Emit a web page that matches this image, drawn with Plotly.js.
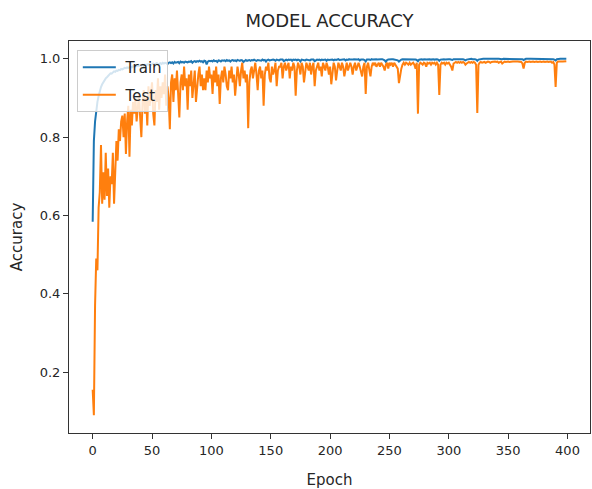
<!DOCTYPE html>
<html>
<head>
<meta charset="utf-8">
<script src="https://cdn.plot.ly/plotly-3.0.1.min.js"></script>
<style>html,body{margin:0;padding:0;background:#fff;}#chart{width:592px;height:489px;}</style>
</head>
<body>
<div id="chart"></div>
<script>
const train = [
0.584,0.790,0.840,0.870,0.890,0.905,0.918,0.928,0.935,0.941,
0.946,0.950,0.953,0.957,0.960,0.963,0.962,0.966,0.968,0.967,
0.970,0.969,0.972,0.971,0.974,0.973,0.975,0.977,0.976,0.978,
0.977,0.979,0.980,0.978,0.981,0.980,0.982,0.981,0.983,0.982,
0.984,0.983,0.985,0.982,0.985,0.984,0.986,0.985,0.987,0.984,
0.986,0.988,0.986,0.987,0.989,0.985,0.988,0.989,0.987,0.990,
0.988,0.990,0.989,0.986,0.990,0.991,0.989,0.991,0.988,0.992,
0.990,0.991,0.992,0.989,0.993,0.991,0.992,0.990,0.993,0.992,
0.991,0.993,0.992,0.994,0.990,0.993,0.994,0.992,0.994,0.993,
0.995,0.993,0.994,0.991,0.995,0.994,0.986,0.993,0.995,0.994,
0.995,0.993,0.996,0.994,0.995,0.992,0.996,0.995,0.993,0.996,
0.995,0.996,0.994,0.997,0.995,0.996,0.993,0.996,0.997,0.995,
0.996,0.994,0.997,0.996,0.995,0.997,0.996,0.992,0.996,0.997,
0.995,0.996,0.997,0.995,0.997,0.996,0.998,0.996,0.995,0.997,
0.996,0.997,0.995,0.998,0.996,0.997,0.993,0.997,0.998,0.996,
0.997,0.996,0.998,0.997,0.995,0.998,0.997,0.996,0.998,0.997,
0.998,0.994,0.997,0.998,0.996,0.998,0.997,0.998,0.995,0.998,
0.997,0.998,0.996,0.998,0.997,0.993,0.998,0.997,0.998,0.996,
0.998,0.997,0.998,0.996,0.998,0.997,0.998,0.994,0.997,0.998,
0.997,0.998,0.996,0.998,0.997,0.998,0.998,0.995,0.998,0.997,
0.998,0.997,0.998,0.996,0.998,0.997,0.998,0.999,0.997,0.998,
0.997,0.998,0.999,0.996,0.998,0.997,0.999,0.998,0.997,0.998,
0.999,0.998,0.997,0.998,0.999,0.996,0.998,0.999,0.998,0.997,
0.993,0.998,0.999,0.998,0.997,0.999,0.998,0.999,0.998,0.999,
0.998,0.999,0.998,0.999,0.999,0.998,0.996,0.992,0.997,0.998,
0.999,0.998,0.999,0.999,0.998,0.999,0.998,0.996,0.993,0.996,
0.998,0.999,0.999,0.998,0.999,0.999,0.998,0.999,0.999,0.998,
0.999,0.999,0.998,0.997,0.994,0.998,0.999,0.999,0.998,0.999,
0.999,0.998,0.999,0.999,0.999,0.998,0.999,0.999,0.998,0.999,
0.999,0.998,0.995,0.998,0.999,0.999,0.999,0.998,0.999,0.999,
0.999,0.999,0.998,0.997,0.999,0.999,0.999,1.000,0.999,0.999,
1.000,0.999,0.999,0.998,0.996,0.998,0.999,1.000,0.999,1.000,
0.999,1.000,0.999,0.998,0.995,0.998,0.999,1.000,0.999,1.000,
1.000,0.999,1.000,1.000,0.999,1.000,1.000,0.999,1.000,1.000,
0.999,1.000,1.000,0.999,1.000,0.999,1.000,1.000,0.999,1.000,
1.000,1.000,0.999,1.000,1.000,0.999,1.000,1.000,1.000,0.999,
1.000,1.000,0.999,0.997,0.999,1.000,1.000,0.999,1.000,1.000,
1.000,0.999,1.000,1.000,1.000,0.999,1.000,1.000,1.000,1.000,
0.999,1.000,1.000,1.000,0.999,1.000,1.000,1.000,0.999,0.998,
0.996,0.999,1.000,1.000,1.000,1.000,0.999,1.000,1.000,1.000
];
const test = [
0.155,0.090,0.370,0.490,0.460,0.620,0.660,0.780,0.630,0.710,
0.640,0.760,0.650,0.720,0.620,0.700,0.680,0.760,0.630,0.730,
0.790,0.740,0.820,0.790,0.840,0.855,0.800,0.860,0.757,0.840,
0.880,0.750,0.870,0.830,0.890,0.860,0.900,0.840,0.880,0.910,
0.850,0.800,0.890,0.920,0.860,0.900,0.830,0.930,0.880,0.910,
0.940,0.860,0.830,0.920,0.890,0.950,0.870,0.930,0.900,0.940,
0.910,0.960,0.880,0.930,0.900,0.820,0.940,0.960,0.890,0.950,
0.920,0.970,0.900,0.850,0.940,0.960,0.920,0.980,0.930,0.950,
0.870,0.960,0.930,0.970,0.900,0.950,0.970,0.890,0.940,0.960,
0.980,0.930,0.960,0.920,0.950,0.920,0.970,0.940,0.980,0.950,
0.960,0.910,0.970,0.940,0.980,0.930,0.960,0.885,0.950,0.970,
0.940,0.980,0.960,0.930,0.920,0.970,0.950,0.980,0.940,0.960,
0.906,0.950,0.980,0.960,0.930,0.970,0.990,0.950,0.970,0.940,
0.960,0.823,0.940,0.970,0.980,0.950,0.970,0.990,0.960,0.920,
0.970,0.980,0.950,0.970,0.880,0.960,0.980,0.970,0.990,0.950,
0.940,0.980,0.960,0.970,0.990,0.930,0.970,0.980,0.980,0.990,
0.950,0.980,0.990,0.970,0.980,0.990,0.950,0.980,0.970,0.990,
0.980,0.906,0.970,0.990,0.980,0.960,0.990,0.980,0.940,0.970,
0.990,0.980,0.970,0.990,0.960,0.980,0.990,0.930,0.970,0.980,
0.990,0.970,0.980,0.955,0.990,0.980,0.970,0.990,0.980,0.960,
0.980,0.935,0.970,0.990,0.980,0.945,0.970,0.990,0.980,0.970,
0.990,0.980,0.955,0.980,0.990,0.970,0.980,0.990,0.980,0.960,
0.980,0.990,0.970,0.980,0.990,0.980,0.970,0.955,0.980,0.990,
0.910,0.980,0.990,0.970,0.955,0.980,0.990,0.985,0.990,0.980,
0.985,0.990,0.980,0.990,0.985,0.980,0.970,0.985,0.990,0.975,
0.990,0.985,0.990,0.980,0.990,0.985,0.980,0.975,0.938,0.965,
0.975,0.985,0.990,0.985,0.990,0.988,0.985,0.990,0.985,0.988,
0.990,0.985,0.975,0.990,0.860,0.985,0.990,0.988,0.985,0.990,
0.988,0.980,0.990,0.988,0.990,0.985,0.990,0.988,0.990,0.985,
0.990,0.985,0.908,0.985,0.990,0.988,0.990,0.985,0.990,0.988,
0.990,0.985,0.980,0.970,0.988,0.990,0.992,0.990,0.992,0.990,
0.992,0.990,0.992,0.990,0.985,0.988,0.990,0.992,0.990,0.992,
0.990,0.992,0.990,0.985,0.862,0.985,0.990,0.992,0.990,0.992,
0.992,0.990,0.992,0.993,0.992,0.990,0.992,0.993,0.992,0.993,
0.992,0.993,0.990,0.992,0.993,0.988,0.992,0.993,0.992,0.993,
0.993,0.992,0.993,0.992,0.993,0.993,0.992,0.993,0.993,0.992,
0.993,0.992,0.988,0.975,0.990,0.993,0.992,0.993,0.993,0.992,
0.993,0.993,0.992,0.993,0.993,0.992,0.993,0.993,0.992,0.993,
0.993,0.992,0.993,0.993,0.992,0.993,0.993,0.990,0.992,0.985,
0.928,0.990,0.993,0.993,0.992,0.993,0.993,0.994,0.993,0.994
];
const epochs = train.map((_, i) => i);
const seriesNames = ['Train', 'Test'];
const xTicks = [0, 50, 100, 150, 200, 250, 300, 350, 400];
const yTicks = [0.2, 0.4, 0.6, 0.8, 1.0];
const yTickText = ['0.2', '0.4', '0.6', '0.8', '1.0'];

const font = 'DejaVu Sans, sans-serif';
const data = [
  {x: epochs, y: train, name: '\u00a0' + seriesNames[0], type: 'scatter', mode: 'lines', legendgroup: 'a',
   line: {color: '#1f77b4', width: 2}},
  {x: epochs, y: test, name: '\u00a0' + seriesNames[1], type: 'scatter', mode: 'lines', legendgroup: 'b',
   line: {color: '#ff7f0e', width: 2}}
];
const layout = {
  width: 592, height: 489,
  margin: {l: 69, r: 2, t: 41, b: 56},
  paper_bgcolor: '#fff', plot_bgcolor: '#fff',
  font: {family: font, size: 13, color: '#262626'},
  title: {text: 'MODEL ACCURACY', font: {family: font, size: 18, color: '#262626'},
          xref: 'paper', x: 0.5, xanchor: 'center', yref: 'container', y: 0.957, yanchor: 'middle'},
  showlegend: true,
  legend: {x: 0.015, y: 0.977, xanchor: 'left', yanchor: 'top',
           bgcolor: 'rgba(255,255,255,0.8)', bordercolor: '#cccccc', borderwidth: 1,
           font: {family: font, size: 15, color: '#262626'}, itemwidth: 33,
           traceorder: 'grouped', tracegroupgap: 5},
  xaxis: {range: [-19.95, 418.95], tickvals: xTicks, ticks: 'outside', ticklen: 5, tickcolor: '#333',
          showgrid: false, zeroline: false, showline: true, linecolor: '#333', linewidth: 1, mirror: true,
          title: {text: 'Epoch', font: {family: font, size: 15}, standoff: 17}},
  yaxis: {range: [0.0445, 1.0455], tickvals: yTicks, ticktext: yTickText, ticks: 'outside', ticklen: 5, tickcolor: '#333',
          showgrid: false, zeroline: false, showline: true, linecolor: '#333', linewidth: 1, mirror: true,
          title: {text: 'Accuracy', font: {family: font, size: 15}, standoff: 13}}
};
Plotly.newPlot('chart', data, layout, {displayModeBar: false, staticPlot: true});
</script>
</body>
</html>
